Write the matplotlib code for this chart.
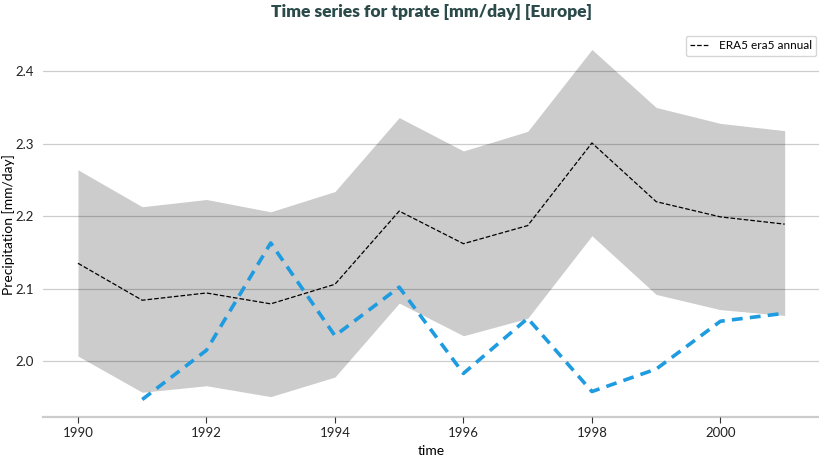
import matplotlib
matplotlib.use("Agg")
import matplotlib.pyplot as plt

plt.rcParams['font.family'] = ['Lato', 'DejaVu Sans']

# Data
years = [1990, 1991, 1992, 1993, 1994, 1995, 1996, 1997, 1998, 1999, 2000, 2001]
era5_mean = [2.135, 2.084, 2.094, 2.079, 2.106, 2.207, 2.162, 2.187, 2.301, 2.220, 2.199, 2.189]
era5_upper = [2.264, 2.213, 2.223, 2.206, 2.234, 2.336, 2.290, 2.317, 2.430, 2.350, 2.328, 2.318]
era5_lower = [2.007, 1.957, 1.966, 1.951, 1.978, 2.080, 2.035, 2.059, 2.173, 2.092, 2.071, 2.063]

model_years = [1991, 1992, 1993, 1994, 1995, 1996, 1997, 1998, 1999, 2000, 2001]
model_vals = [1.947, 2.015, 2.163, 2.035, 2.102, 1.983, 2.059, 1.958, 1.989, 2.055, 2.066]

fig = plt.figure(figsize=(8.2, 4.57), dpi=100)
ax = fig.add_axes([0.052, 0.0875, 0.948, 0.8425])

ax.fill_between(years, era5_lower, era5_upper, color='#cccccc', linewidth=0, zorder=1)
ax.plot(years, era5_mean, color='black', linestyle='--', linewidth=0.9,
        label='ERA5 era5 annual', zorder=3)
ax.plot(model_years, model_vals, color='#1f9be0', linestyle='--', linewidth=2.6,
        dashes=(3, 2), zorder=4)

ax.set_yticks([2.0, 2.1, 2.2, 2.3, 2.4])
ax.set_xticks([1990, 1992, 1994, 1996, 1998, 2000])
ax.grid(axis='y', color='black', alpha=0.2, linewidth=0.9, zorder=2)
ax.set_axisbelow(False)

for s in ['top', 'right', 'left']:
    ax.spines[s].set_visible(False)
ax.spines['bottom'].set_color('#cccccc')
ax.spines['bottom'].set_linewidth(1.6)
ax.tick_params(axis='y', length=0, labelsize=9.5, colors='#222222', pad=6)
ax.tick_params(axis='x', length=4, width=0.8, color='#333333', labelsize=9.5,
               colors='#222222')

ax.set_xlabel('time', fontsize=10)
ax.xaxis.set_label_coords(0.5, -0.072)
ax.set_ylabel('Precipitation [mm/day]', fontsize=10)
ax.yaxis.set_label_coords(-0.036, 0.5)
ax.set_title('Time series for tprate [mm/day] [Europe]', fontsize=12.5,
             fontweight='heavy', color='#2b4a4a', pad=11)

leg = ax.legend(loc='upper right', fontsize=8.5, frameon=True, fancybox=True,
                borderaxespad=0.3, handlelength=1.6)
leg.get_frame().set_edgecolor('#cccccc')

fig.savefig('out.png', dpi=100)
